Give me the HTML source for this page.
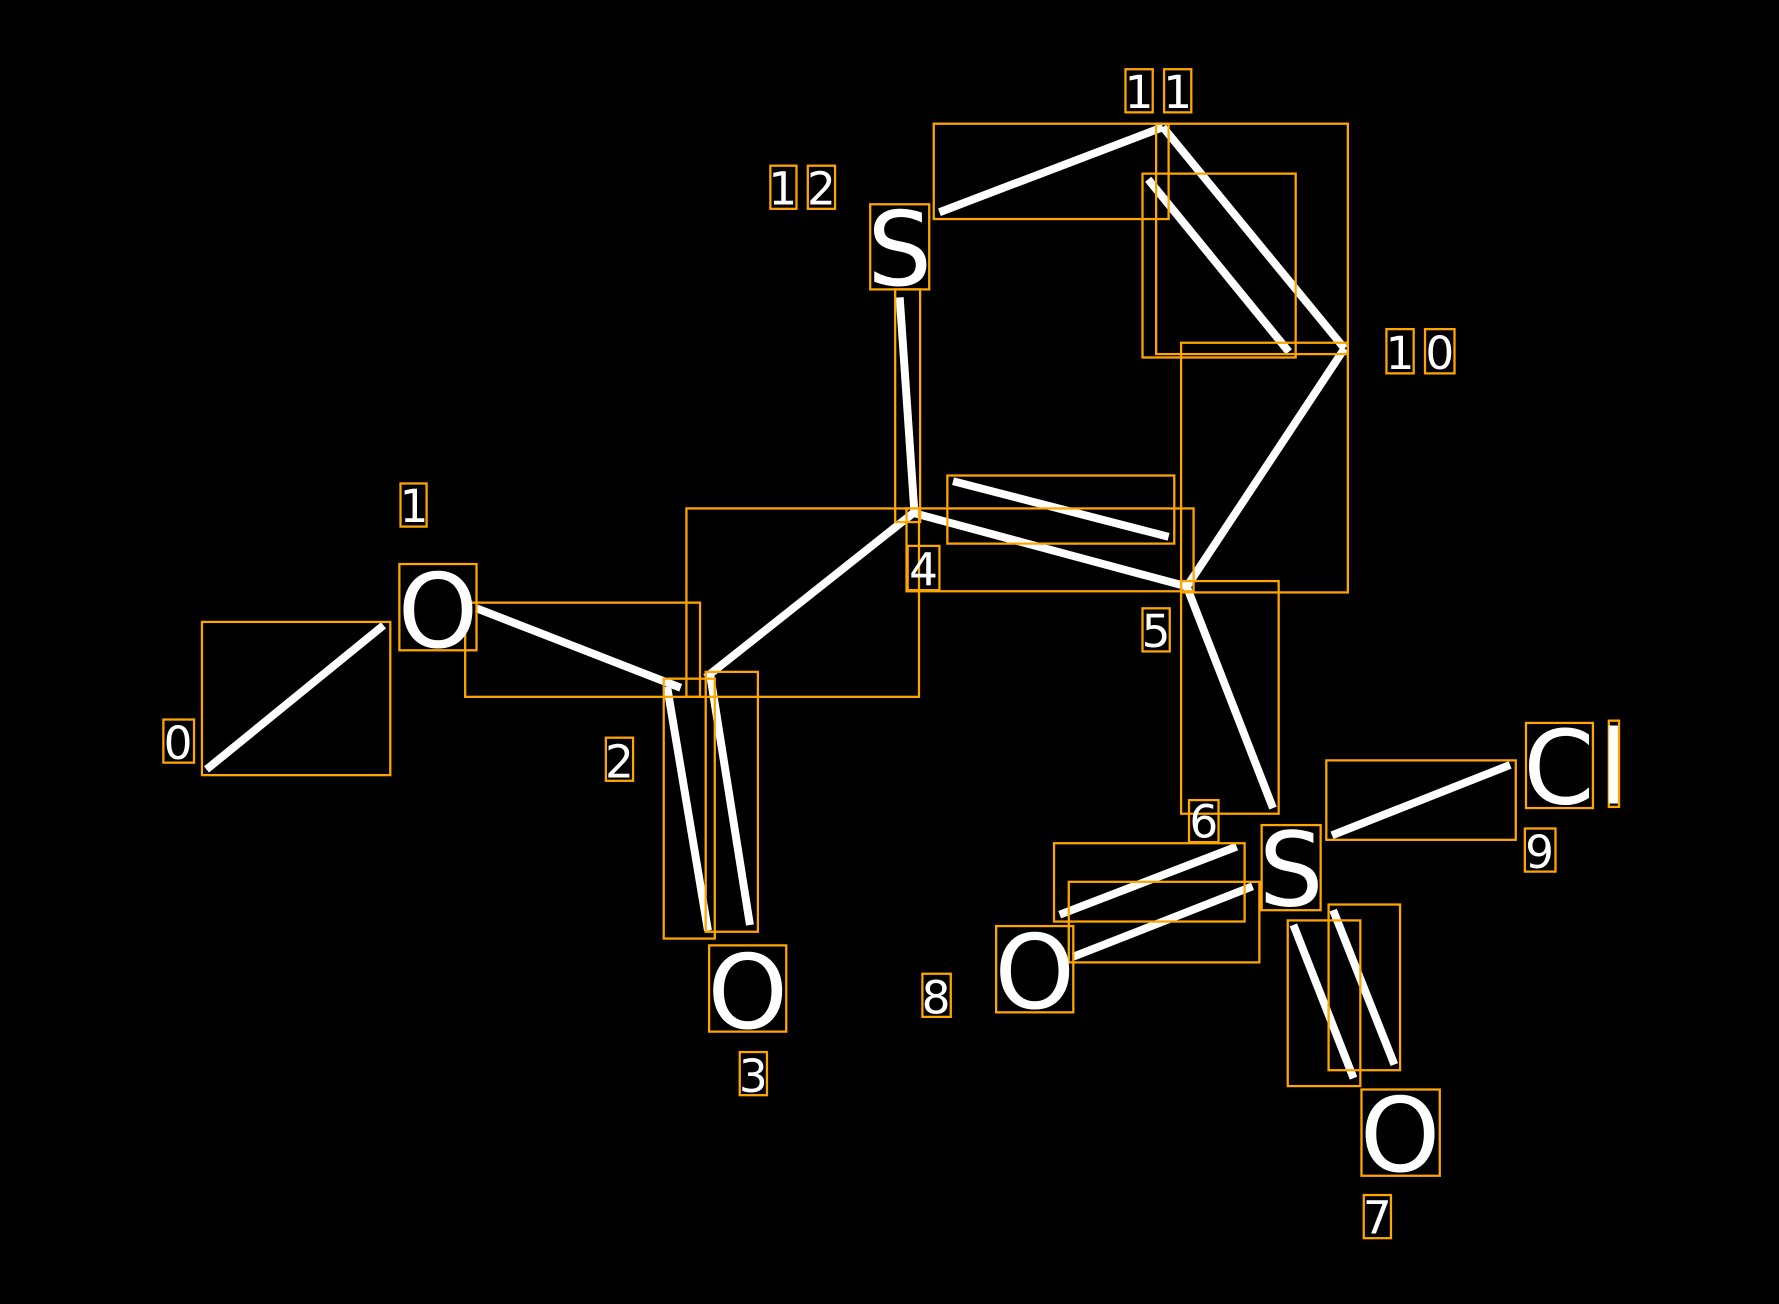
<!DOCTYPE html>
<html><head><meta charset="utf-8"><style>html,body{margin:0;padding:0;background:#000}svg{display:block}</style></head><body>
<svg width="1779" height="1304" viewBox="0 0 1568 1149" preserveAspectRatio="none" xmlns="http://www.w3.org/2000/svg">
<rect width="1568" height="1149" fill="#000"/>
<g stroke="#fff" stroke-width="7" stroke-linecap="butt" fill="none">
<line x1="182" y1="678" x2="338" y2="551"/>
<line x1="420" y1="536" x2="600" y2="606"/>
<line x1="588" y1="605" x2="624" y2="820"/>
<line x1="626" y1="595" x2="661" y2="815"/>
<line x1="622" y1="597" x2="805" y2="452"/>
<line x1="805" y1="452" x2="1047" y2="517"/>
<line x1="840" y1="424" x2="1030" y2="473"/>
<line x1="806" y1="452" x2="793" y2="262"/>
<line x1="828" y1="187" x2="1025" y2="112"/>
<line x1="1025" y1="112" x2="1185" y2="307"/>
<line x1="1012" y1="158" x2="1136" y2="310"/>
<line x1="1185" y1="307" x2="1046" y2="517"/>
<line x1="1046" y1="517" x2="1122" y2="712"/>
<line x1="1174" y1="736" x2="1331" y2="674"/>
<line x1="1090" y1="746" x2="934" y2="806"/>
<line x1="1104" y1="781" x2="946" y2="843"/>
<line x1="1140" y1="815" x2="1193" y2="950"/>
<line x1="1175" y1="802" x2="1229" y2="938"/>
</g>
<g stroke="#ffa500" stroke-width="2" fill="none">
<rect x="178" y="548" width="166" height="135"/>
<rect x="352" y="497" width="68" height="76"/>
<rect x="353" y="426" width="23" height="38"/>
<rect x="144" y="634" width="27" height="38"/>
<rect x="410" y="531" width="207" height="83"/>
<rect x="605" y="448" width="205" height="166"/>
<rect x="585" y="598" width="45" height="229"/>
<rect x="622" y="592" width="46" height="229"/>
<rect x="534" y="650" width="24" height="38"/>
<rect x="625" y="833" width="68" height="76"/>
<rect x="652" y="927" width="24" height="38"/>
<rect x="789" y="255" width="22" height="205"/>
<rect x="767" y="180" width="52" height="75"/>
<rect x="679" y="146" width="23" height="38"/>
<rect x="712" y="146" width="24" height="38"/>
<rect x="799" y="448" width="253" height="73"/>
<rect x="835" y="419" width="200" height="60"/>
<rect x="800" y="481" width="28" height="39"/>
<rect x="823" y="109" width="207" height="84"/>
<rect x="1019" y="109" width="169" height="203"/>
<rect x="1007" y="153" width="135" height="162"/>
<rect x="992" y="61" width="24" height="38"/>
<rect x="1026" y="61" width="24" height="38"/>
<rect x="1041" y="302" width="147" height="220"/>
<rect x="1222" y="290" width="24" height="39"/>
<rect x="1256" y="290" width="26" height="39"/>
<rect x="1007" y="536" width="24" height="38"/>
<rect x="1041" y="512" width="86" height="205"/>
<rect x="1048" y="705" width="26" height="37"/>
<rect x="1112" y="727" width="52" height="75"/>
<rect x="1169" y="670" width="167" height="70"/>
<rect x="1345" y="637" width="59" height="75"/>
<rect x="1418" y="635" width="9" height="76"/>
<rect x="1344" y="730" width="27" height="38"/>
<rect x="929" y="743" width="168" height="69"/>
<rect x="942" y="777" width="168" height="71"/>
<rect x="878" y="816" width="68" height="76"/>
<rect x="813" y="858" width="25" height="38"/>
<rect x="1135" y="811" width="64" height="146"/>
<rect x="1171" y="797" width="63" height="146"/>
<rect x="1200" y="960" width="69" height="76"/>
<rect x="1202" y="1053" width="24" height="38"/>
</g>
<g fill="#fff" font-family="'DejaVu Sans', 'Liberation Sans', sans-serif">
<g font-size="90" text-anchor="middle">
<text x="386" y="570">O</text>
<text x="659" y="906">O</text>
<text x="793" y="251">S</text>
<text x="1138" y="798">S</text>
<text x="1374" y="708">C</text>
<text x="1422" y="708">l</text>
<text x="912" y="888">O</text>
<text x="1234" y="1032">O</text>
</g>
<g font-size="40" text-anchor="middle">
<text x="157" y="669">0</text>
<text x="365" y="460">1</text>
<text x="546" y="685">2</text>
<text x="664" y="962">3</text>
<text x="814" y="516">4</text>
<text x="1019" y="570">5</text>
<text x="1061" y="738">6</text>
<text x="1214" y="1087">7</text>
<text x="825" y="893">8</text>
<text x="1357" y="765">9</text>
<text x="1234" y="325">1</text>
<text x="1269" y="325">0</text>
<text x="1004" y="95">1</text>
<text x="1038" y="95">1</text>
<text x="690" y="180">1</text>
<text x="724" y="180">2</text>
</g>
</g>
</svg>
</body></html>
